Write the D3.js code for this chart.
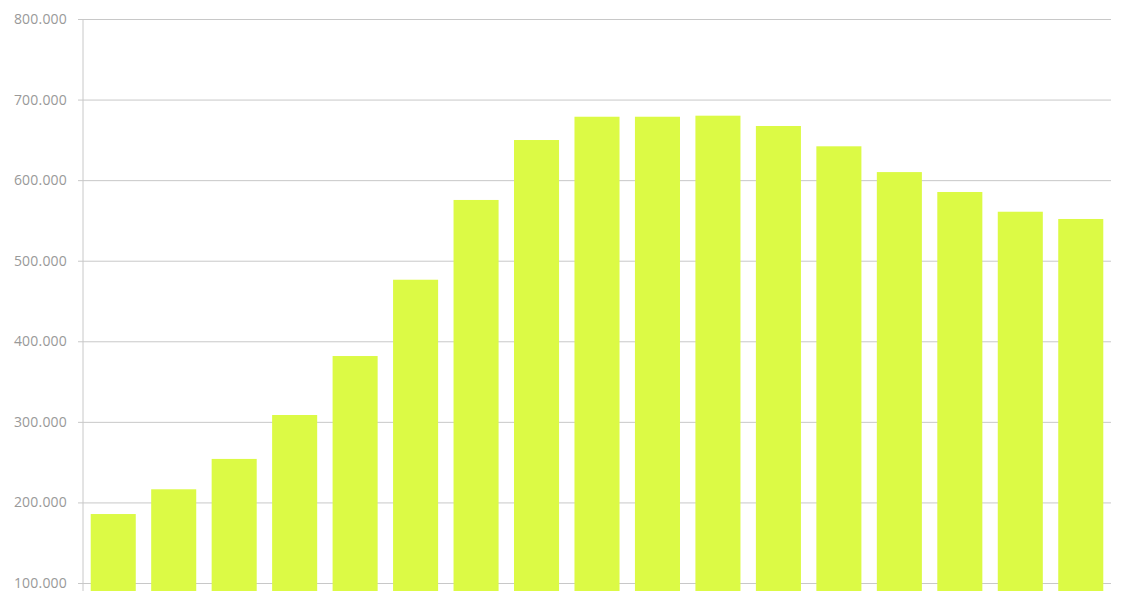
<!DOCTYPE html>
<html>
<head>
<meta charset="utf-8">
<title>Bar chart</title>
<script src="https://d3js.org/d3.v7.min.js"></script>
<style>
  body { margin: 0; background: #fff; }
  .axis text { font-family: "Open Sans", sans-serif; font-size: 14px; fill: #999; letter-spacing: 0.2px; }
</style>
</head>
<body>
<script>

// bar categories (no labels shown in the chart)
var categories = ['1','2','3','4','5','6','7','8','9','10','11','12','13','14','15','16','17'];
var values = [185.6, 216.3, 254, 308.5, 381.7, 476.4, 575.4, 649.8, 678.7, 678.7, 680, 667.2, 642, 610, 585.3, 560.8, 551.8];
var yTicks = [100, 200, 300, 400, 500, 600, 700, 800];

var width = 1128, height = 591;
var margin = {top: 19, right: 17, bottom: 0, left: 83};

var svg = d3.select("body").append("svg")
  .attr("width", width)
  .attr("height", height);

var x = d3.scaleBand()
  .domain(categories)
  .range([margin.left, width - margin.right])
  .paddingInner(0.255)
  .paddingOuter(0.1275);

// 100 sits at y=583, 800 at y=19
var y = d3.scaleLinear()
  .domain([100, 800])
  .range([583, margin.top]);

var fmt = d3.format(".3f");

// gridlines + ticks
var yAxis = svg.append("g")
  .attr("class", "axis")
  .attr("transform", "translate(" + margin.left + ",0)")
  .call(d3.axisLeft(y)
    .tickValues(yTicks)
    .tickSize(-(width - margin.right - margin.left))
    .tickPadding(16)
    .tickFormat(fmt));

yAxis.select(".domain").remove();
yAxis.selectAll(".tick line")
  .attr("x1", -5)
  .attr("stroke", "#c8c8c8")
  .attr("stroke-width", 1);

// vertical axis line
svg.append("line")
  .attr("x1", margin.left).attr("x2", margin.left)
  .attr("y1", margin.top).attr("y2", height)
  .attr("stroke", "#c8c8c8");

svg.append("g")
  .selectAll("rect")
  .data(values)
  .enter()
  .append("rect")
  .attr("x", function(d, i){ return x(categories[i]); })
  .attr("width", x.bandwidth())
  .attr("y", function(d){ return y(d); })
  .attr("height", function(d){ return height - y(d); })
  .attr("fill", "#dcfa45");

</script>
</body>
</html>
